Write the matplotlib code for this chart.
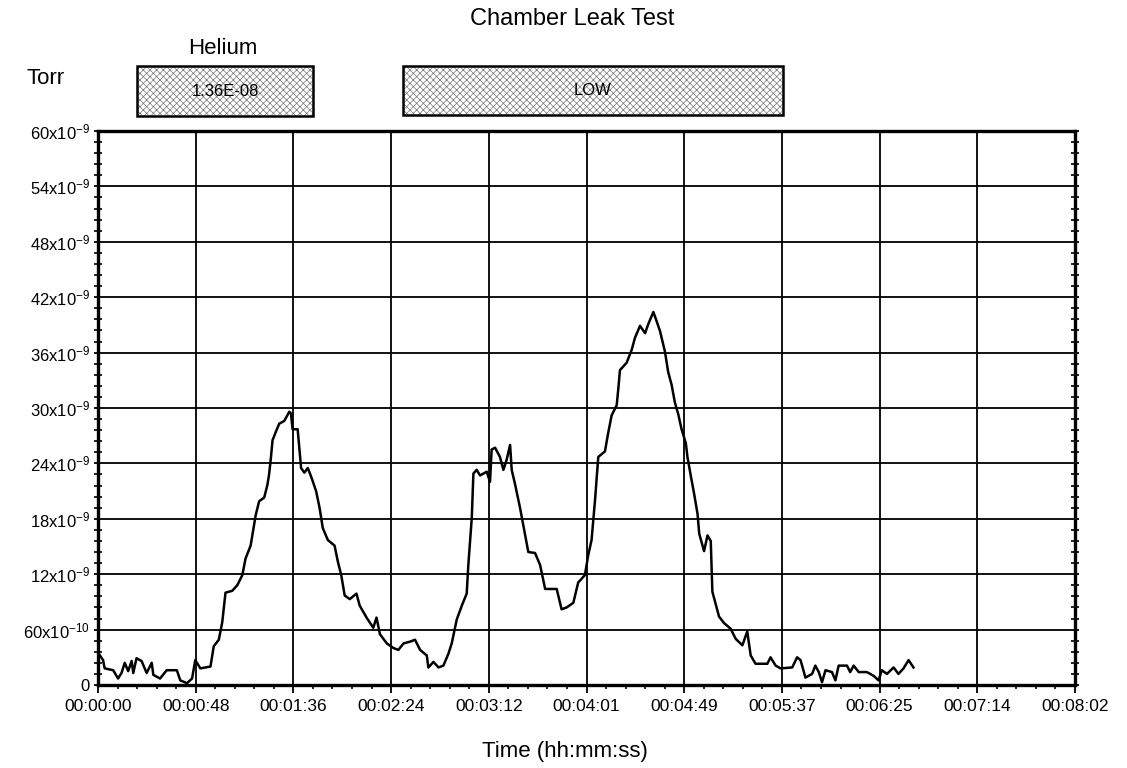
import matplotlib
matplotlib.use("Agg")
import matplotlib.pyplot as plt
from matplotlib.patches import Rectangle
from matplotlib.ticker import MultipleLocator

plt.rcParams['font.family'] = ['Liberation Sans', 'DejaVu Sans']
plt.rcParams['mathtext.default'] = 'regular'
plt.rcParams['hatch.linewidth'] = 0.5

# ---- data (time in seconds, helium leak in units of 1e-9 Torr) ----
time_s = [0, 2.5, 3.3, 7.5, 9.9, 11.6, 13.2, 14.9, 16.6, 17.4, 19.0, 21.5, 24.0, 26.5, 27.3,
          30.6, 33.9, 38.9, 40.6, 43.9, 46.4, 48.0, 50.5, 55.5, 57.1, 59.6, 61.3, 62.9, 66.2,
          68.7, 71.2, 72.8, 75.3, 77.0, 77.8, 79.5, 82.0, 83.6, 84.4, 85.3, 86.1, 87.7, 89.4,
          91.9, 94.4, 95.2, 96.0, 98.5, 100.2, 101.8, 103.5, 105.1, 107.6, 109.3, 110.9, 113.4,
          116.7, 118.4, 120.0, 121.7, 124.2, 127.5, 129.1, 132.5, 135.8, 137.4, 139.1,
          142.5, 145.8, 148.2, 150.7, 154.0, 156.4, 158.9, 162.2, 163.0, 165.5, 168.0, 170.4,
          172.9, 174.5, 177.0, 179.5, 181.9, 182.7, 184.4, 185.2, 186.8, 188.5, 191.8, 193.4,
          194.2, 195.9, 198.3, 200.0, 201.6, 203.3, 204.1, 205.7, 208.2, 210.7, 212.3, 215.6,
          218.1, 220.6, 226.3, 228.7, 231.2, 234.5, 236.9, 240.2, 241.9, 243.5, 245.2, 246.8,
          250.1, 251.7, 253.4, 255.9, 256.7, 257.5, 260.8, 263.3, 264.9, 267.4, 269.9, 271.5,
          274.0, 275.6, 277.3, 279.7, 281.3, 283.0, 284.6, 286.3, 287.9,
          290.0, 290.8, 292.5, 294.1, 295.8, 296.6, 299.0, 300.7, 302.3, 303.1, 304.8, 306.4,
          308.9, 312.1, 314.6, 317.9, 320.3, 322.0, 324.4, 330.2, 331.8, 334.3, 336.7, 342.5,
          344.9, 346.6, 349.0, 352.3, 353.9, 355.6, 357.2, 358.9, 362.1, 363.8, 365.4, 369.5,
          371.1, 372.8, 375.3, 379.3, 382.6, 385.1, 386.7, 389.2, 392.5, 394.9, 397.4, 399.9,
          402.3]
leak_e9 = [3.5, 2.7, 1.8, 1.6, 0.7, 1.3, 2.4, 1.5, 2.6, 1.3, 2.9, 2.6, 1.3, 2.4, 1.1,
           0.7, 1.6, 1.6, 0.5, 0.2, 0.7, 2.7, 1.8, 2.0, 4.2, 4.9, 6.8, 10.0, 10.2,
           10.8, 11.9, 13.7, 15.1, 17.3, 18.4, 19.9, 20.3, 21.7, 22.8, 24.6, 26.5, 27.4, 28.3,
           28.6, 29.6, 29.4, 27.7, 27.7, 23.5, 23.0, 23.5, 22.6, 21.0, 19.2, 17.0, 15.7,
           15.1, 13.3, 11.9, 9.7, 9.3, 9.9, 8.6, 7.3, 6.2, 7.3, 5.5,
           4.5, 4.0, 3.8, 4.5, 4.7, 4.9, 3.8, 3.2, 1.9, 2.5, 1.9, 2.1,
           3.4, 4.5, 7.1, 8.6, 9.9, 13.0, 18.1, 22.9, 23.3, 22.7, 23.1, 22.0,
           25.5, 25.7, 24.7, 23.3, 24.4, 26.0, 23.3, 21.8, 19.2, 16.3, 14.4, 14.3,
           13.0, 10.4, 10.4, 8.2, 8.4, 8.9, 11.1, 11.9, 14.1, 15.7, 20.0, 24.7,
           25.3, 27.3, 29.2, 30.3, 32.1, 34.1, 34.9, 36.3, 37.6, 38.9, 38.1, 39.1,
           40.4, 39.4, 38.3, 36.1, 33.9, 32.5, 30.6, 29.3, 27.7,
           26.2, 24.7, 22.6, 20.7, 18.5, 16.4, 14.5, 16.2, 15.6, 10.1, 8.7, 7.4,
           6.7, 6.1, 5.0, 4.3, 5.8, 3.2, 2.3, 2.3, 3.0, 2.1, 1.8, 1.9,
           3.0, 2.7, 0.8, 1.2, 2.1, 1.4, 0.3, 1.6, 1.4, 0.5, 2.1, 2.1,
           1.4, 2.1, 1.4, 1.4, 1.0, 0.5, 1.6, 1.2, 1.9, 1.2, 1.8, 2.7,
           1.9]

x_tick_s = [0, 48.2, 96.4, 144.6, 192.8, 241.0, 289.2, 337.4, 385.6, 433.8, 482.0]
x_tick_labels = ["00:00:00", "00:00:48", "00:01:36", "00:02:24", "00:03:12", "00:04:01",
                 "00:04:49", "00:05:37", "00:06:25", "00:07:14", "00:08:02"]
y_tick_vals = [0, 6e-9, 12e-9, 18e-9, 24e-9, 30e-9, 36e-9, 42e-9, 48e-9, 54e-9, 60e-9]
y_tick_labels = ["0", r"60x10$^{-10}$", r"12x10$^{-9}$", r"18x10$^{-9}$", r"24x10$^{-9}$",
                 r"30x10$^{-9}$", r"36x10$^{-9}$", r"42x10$^{-9}$", r"48x10$^{-9}$",
                 r"54x10$^{-9}$", r"60x10$^{-9}$"]

title = "Chamber Leak Test"
gas_label = "Helium"
unit_label = "Torr"
gas_value = "1.36E-08"
status_text = "LOW"
x_label = "Time (hh:mm:ss)"

W, H = 1127, 768
fig = plt.figure(figsize=(W / 100, H / 100), dpi=100)
ax = fig.add_axes([98 / W, 1 - 685 / H, (1075 - 98) / W, (685 - 131) / H])

leak_torr = [v * 1e-9 for v in leak_e9]
ax.plot(time_s, leak_torr, color='black', linewidth=1.8, zorder=3)

ax.set_xlim(0, 482)
ax.set_ylim(0, 60e-9)
ax.set_xticks(x_tick_s)
ax.set_xticklabels(x_tick_labels, fontsize=12.5)
ax.set_yticks(y_tick_vals)
ax.set_yticklabels(y_tick_labels, fontsize=12)
ax.xaxis.set_minor_locator(MultipleLocator(48.2 / 5))
ax.yaxis.set_minor_locator(MultipleLocator(1.2e-9))
ax.grid(True, which='major', color='black', linewidth=1.3)
ax.tick_params(axis='x', which='major', direction='out', length=6, width=1.3, pad=4)
ax.tick_params(axis='x', which='minor', direction='out', length=3, width=1.2)
ax.tick_params(axis='y', which='major', direction='out', length=3, width=1.3, pad=3,
               right=True)
ax.tick_params(axis='y', which='minor', direction='inout', length=6, width=1.2, right=True)
for s in ax.spines.values():
    s.set_linewidth(2.4)
    s.set_color('black')

# header / label texts
fig.text(572 / W, 1 - 19 / H, title, ha='center', va='center', fontsize=17)
fig.text(223 / W, 1 - 48 / H, gas_label, ha='center', va='center', fontsize=16)
fig.text(46 / W, 1 - 78 / H, unit_label, ha='center', va='center', fontsize=16)
fig.text(565 / W, 1 - 752 / H, x_label, ha='center', va='center', fontsize=16)


def box(x0, x1, y0, y1, text):
    xy = (x0 / W, 1 - y1 / H)
    w, h = (x1 - x0) / W, (y1 - y0) / H
    fig.patches.append(Rectangle(xy, w, h, transform=fig.transFigure,
                                 facecolor='white', edgecolor='none'))
    fig.patches.append(Rectangle(xy, w, h, transform=fig.transFigure, facecolor='none',
                                 edgecolor='#777777', hatch='xxxxx', linewidth=0))
    fig.patches.append(Rectangle(xy, w, h, transform=fig.transFigure, facecolor='none',
                                 edgecolor='black', linewidth=1.8))
    fig.text((x0 + x1) / 2 / W, 1 - (y0 + y1) / 2 / H, text, ha='center', va='center',
             fontsize=12, color='black')


box(137, 313, 66, 116, gas_value)
box(403, 783, 66, 115, status_text)

fig.savefig("out.png", dpi=100)
